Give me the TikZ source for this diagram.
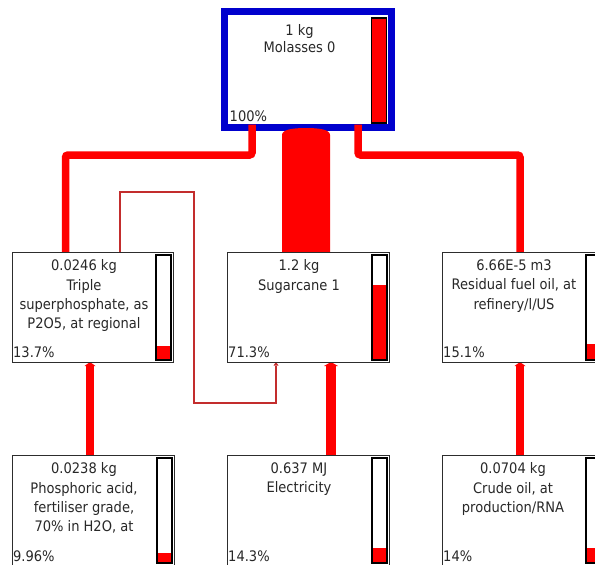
\documentclass[tikz,border=0pt]{standalone}
\usepackage{fontspec}
\setmainfont{DejaVu Sans}[FakeStretch=0.9]
\usetikzlibrary{arrows.meta,calc}
\definecolor{flowred}{RGB}{255,0,0}
\definecolor{thinred}{RGB}{195,45,45}
\definecolor{frameblue}{RGB}{0,0,205}
\definecolor{boxline}{RGB}{45,45,45}
\definecolor{txtgray}{RGB}{40,40,40}
\begin{document}
\begin{tikzpicture}[x=1pt,y=-1pt,
  box/.style={draw=boxline, line width=1pt, fill=white, inner sep=0pt, outer sep=0pt},
  gauge/.style={draw=black, line width=1.3pt, fill=white, inner sep=0pt, outer sep=0pt,
    minimum width=15pt, anchor=north east,
    path picture={\fill[flowred] (path picture bounding box.south west) rectangle
      ($(path picture bounding box.south east)!#1!(path picture bounding box.north east)$);}},
  lbl/.style={font=\fontsize{14.5}{19.4}\selectfont, text=txtgray, align=center, inner sep=0pt, anchor=north},
  pct/.style={font=\fontsize{14.5}{17}\selectfont, text=txtgray, inner sep=0pt, anchor=base west},
  flow/.style={draw=flowred, line width=#1, rounded corners=2.5pt},
  feed/.style={draw=thinred, line width=1.1pt, -{Triangle[length=3.5pt,width=5pt,line width=0pt]}},
]
\useasboundingbox (0,0) rectangle (595,565);
\clip (0,0) rectangle (595,565);
\fill[white] (0,0) rectangle (595,565);

% top box
\node[box, draw=frameblue, line width=7pt, minimum width=167pt, minimum height=116pt] (mol) at (308,69.5) {};
\node[gauge=1, minimum height=105pt] (molbar) at ([xshift=-5pt,yshift=-6.5pt]mol.north east) {};
\node[lbl, font=\fontsize{14.5}{16.5}\selectfont] (moltxt) at (299.5,24.5) {1 kg\\Molasses 0};
\node[pct] (molpct) at (229.5,121) {100\%};

% coordinates for connectors
\coordinate (lbend) at (65.5,155);
\coordinate (rbend) at (520,155);
\coordinate (dl) at (282,135);
\coordinate (dr) at (330,135);
\coordinate (dt) at (306,128);
\coordinate (t1) at (194,192);
\coordinate (t2) at (194,403);
\coordinate (xp) at (90,0);
\coordinate (xe) at (331,0);
\coordinate (xc) at (520,0);

% middle row boxes (positions only, drawn later)
\path (92.5,307) node[minimum width=161pt, minimum height=110pt, inner sep=0pt, outer sep=0pt] (tsp) {};
\path (308,307) node[minimum width=162pt, minimum height=110pt, inner sep=0pt, outer sep=0pt] (sug) {};
\path (522.5,307) node[minimum width=161pt, minimum height=110pt, inner sep=0pt, outer sep=0pt] (res) {};
\path (93,510.5) node[minimum width=162pt, minimum height=111pt, inner sep=0pt, outer sep=0pt] (phos) {};
\path (308,510.5) node[minimum width=162pt, minimum height=111pt, inner sep=0pt, outer sep=0pt] (ele) {};
\path (522.5,510.5) node[minimum width=161pt, minimum height=111pt, inner sep=0pt, outer sep=0pt] (crude) {};

% connectors from the top box
\draw[flow=7.5pt] ([xshift=-56pt,yshift=3pt]mol.south) |- (lbend) -- (lbend |- tsp.north);
\draw[flow=7.5pt] ([xshift=50pt,yshift=3pt]mol.south) |- (rbend) -- (rbend |- res.north);
\fill[flowred] (dl) .. controls (282,129.5) and (293,128) .. (dt)
  .. controls (319,128) and (330,129.5) .. (dr) -- (dr |- sug.north) -- (dl |- sug.north) -- cycle;

% thin loop connector
\draw[feed] ([xshift=27.5pt]tsp.north) |- (t1) -- (t2) -| ([xshift=-32pt]sug.south);

% upward connectors
\draw[draw=flowred, line width=8pt, -{Triangle[length=4pt,width=11pt,line width=0pt]}] (xp |- phos.north) -- (xp |- tsp.south);
\draw[draw=flowred, line width=10pt, -{Triangle[length=4pt,width=14pt,line width=0pt]}] (xe |- ele.north) -- (xe |- sug.south);
\draw[draw=flowred, line width=8pt, -{Triangle[length=4pt,width=11pt,line width=0pt]}] (xc |- crude.north) -- (xc |- res.south);

% draw the boxes
\foreach \b in {tsp,sug,res,phos,ele,crude}{
  \draw[boxline, line width=1pt] (\b.south west) rectangle (\b.north east);
}

% gauges
\node[gauge=0.137, minimum height=105pt] (tspbar) at ([xshift=-2pt,yshift=-3pt]tsp.north east) {};
\node[gauge=0.713, minimum height=105pt] (sugbar) at ([xshift=-2pt,yshift=-3pt]sug.north east) {};
\node[gauge=0.151, minimum height=105pt] (resbar) at ([xshift=-2pt,yshift=-3pt]res.north east) {};
\node[gauge=0.0996, minimum height=105pt] (phosbar) at ([xshift=-2pt,yshift=-3pt]phos.north east) {};
\node[gauge=0.143, minimum height=105pt] (elebar) at ([xshift=-2pt,yshift=-3pt]ele.north east) {};
\node[gauge=0.14, minimum height=105pt] (crudebar) at ([xshift=-2pt,yshift=-3pt]crude.north east) {};

% texts
\node[lbl] (tsptxt) at (84,259.5) {0.0246 kg\\Triple\\superphosphate, as\\P2O5, at regional};
\node[lbl] (sugtxt) at (299,259.5) {1.2 kg\\Sugarcane 1};
\node[lbl] (restxt) at (514,259.5) {6.66E-5 m3\\Residual fuel oil, at\\refinery/l/US};
\node[lbl] (phostxt) at (84,462.5) {0.0238 kg\\Phosphoric acid,\\fertiliser grade,\\70\% in H2O, at};
\node[lbl] (eletxt) at (299,462.5) {0.637 MJ\\Electricity};
\node[lbl] (crudetxt) at (513,462.5) {0.0704 kg\\Crude oil, at\\production/RNA};

\node[pct] (tsppct) at (13,357.5) {13.7\%};
\node[pct] (sugpct) at (228,357.5) {71.3\%};
\node[pct] (respct) at (443,357.5) {15.1\%};
\node[pct] (phospct) at (13,561) {9.96\%};
\node[pct] (elepct) at (228,561) {14.3\%};
\node[pct] (crudepct) at (443,561) {14\%};
\end{tikzpicture}
\end{document}
